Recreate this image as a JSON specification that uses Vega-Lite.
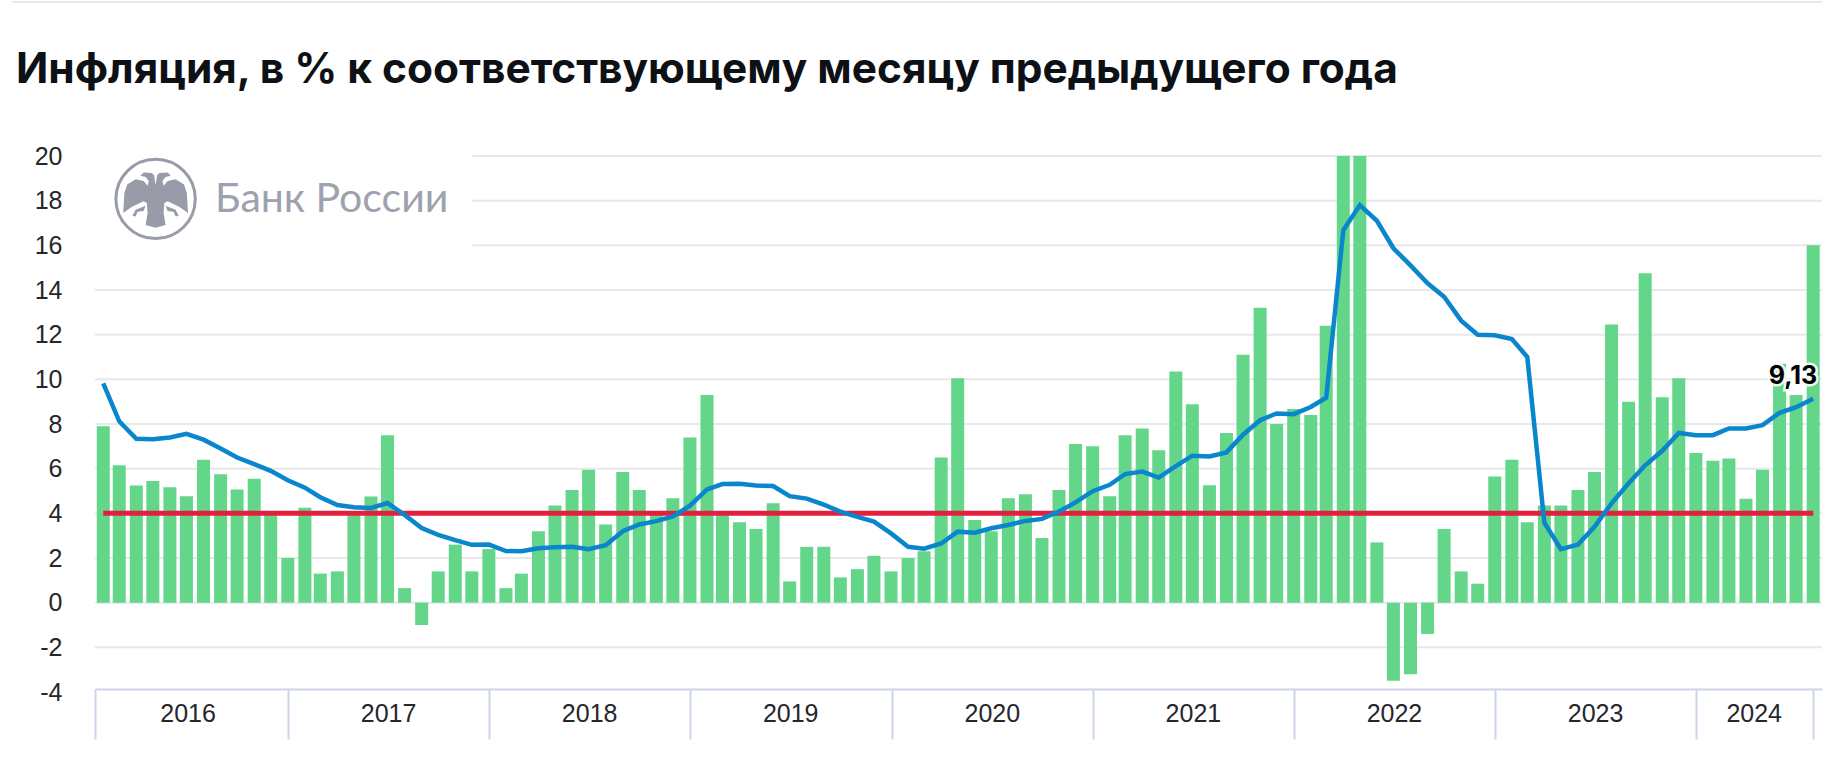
{
  "$schema": "https://vega.github.io/schema/vega-lite/v6.json",
  "autosize": "none",
  "padding": {"left": 95, "top": 156, "right": 25, "bottom": 69},
  "width": 1727,
  "height": 536,
  "background": "#ffffff",
  "config": {"view": {"stroke": null}, "font": "Liberation Sans"},
  "title": {
    "text": "Инфляция, в % к соответствующему месяцу предыдущего года",
    "anchor": "start",
    "frame": "group",
    "font": "Inter",
    "fontSize": 42.4,
    "fontWeight": 700,
    "color": "#0d1116",
    "dx": -79,
    "offset": -91
  },
  "datasets": {
    "months": [
      {"date":"2016-01-31","mom":7.9,"yoy":9.82,"target":4},
      {"date":"2016-02-29","mom":6.15,"yoy":8.12,"target":4},
      {"date":"2016-03-31","mom":5.25,"yoy":7.34,"target":4},
      {"date":"2016-04-30","mom":5.45,"yoy":7.32,"target":4},
      {"date":"2016-05-31","mom":5.17,"yoy":7.4,"target":4},
      {"date":"2016-06-30","mom":4.77,"yoy":7.56,"target":4},
      {"date":"2016-07-31","mom":6.4,"yoy":7.3,"target":4},
      {"date":"2016-08-31","mom":5.75,"yoy":6.9,"target":4},
      {"date":"2016-09-30","mom":5.07,"yoy":6.5,"target":4},
      {"date":"2016-10-31","mom":5.55,"yoy":6.2,"target":4},
      {"date":"2016-11-30","mom":4.05,"yoy":5.9,"target":4},
      {"date":"2016-12-31","mom":2.0,"yoy":5.48,"target":4},
      {"date":"2017-01-31","mom":4.25,"yoy":5.15,"target":4},
      {"date":"2017-02-28","mom":1.3,"yoy":4.72,"target":4},
      {"date":"2017-03-31","mom":1.4,"yoy":4.37,"target":4},
      {"date":"2017-04-30","mom":4.05,"yoy":4.27,"target":4},
      {"date":"2017-05-31","mom":4.75,"yoy":4.24,"target":4},
      {"date":"2017-06-30","mom":7.5,"yoy":4.46,"target":4},
      {"date":"2017-07-31","mom":0.65,"yoy":3.93,"target":4},
      {"date":"2017-08-31","mom":-1.0,"yoy":3.34,"target":4},
      {"date":"2017-09-30","mom":1.4,"yoy":3.04,"target":4},
      {"date":"2017-10-31","mom":2.6,"yoy":2.8,"target":4},
      {"date":"2017-11-30","mom":1.4,"yoy":2.59,"target":4},
      {"date":"2017-12-31","mom":2.4,"yoy":2.6,"target":4},
      {"date":"2018-01-31","mom":0.65,"yoy":2.31,"target":4},
      {"date":"2018-02-28","mom":1.3,"yoy":2.3,"target":4},
      {"date":"2018-03-31","mom":3.2,"yoy":2.44,"target":4},
      {"date":"2018-04-30","mom":4.35,"yoy":2.48,"target":4},
      {"date":"2018-05-31","mom":5.05,"yoy":2.5,"target":4},
      {"date":"2018-06-30","mom":5.95,"yoy":2.39,"target":4},
      {"date":"2018-07-31","mom":3.5,"yoy":2.57,"target":4},
      {"date":"2018-08-31","mom":5.85,"yoy":3.2,"target":4},
      {"date":"2018-09-30","mom":5.05,"yoy":3.5,"target":4},
      {"date":"2018-10-31","mom":3.95,"yoy":3.65,"target":4},
      {"date":"2018-11-30","mom":4.67,"yoy":3.86,"target":4},
      {"date":"2018-12-31","mom":7.4,"yoy":4.34,"target":4},
      {"date":"2019-01-31","mom":9.3,"yoy":5.07,"target":4},
      {"date":"2019-02-28","mom":4.0,"yoy":5.31,"target":4},
      {"date":"2019-03-31","mom":3.6,"yoy":5.32,"target":4},
      {"date":"2019-04-30","mom":3.3,"yoy":5.25,"target":4},
      {"date":"2019-05-31","mom":4.45,"yoy":5.22,"target":4},
      {"date":"2019-06-30","mom":0.95,"yoy":4.77,"target":4},
      {"date":"2019-07-31","mom":2.5,"yoy":4.66,"target":4},
      {"date":"2019-08-31","mom":2.5,"yoy":4.39,"target":4},
      {"date":"2019-09-30","mom":1.13,"yoy":4.08,"target":4},
      {"date":"2019-10-31","mom":1.5,"yoy":3.84,"target":4},
      {"date":"2019-11-30","mom":2.1,"yoy":3.63,"target":4},
      {"date":"2019-12-31","mom":1.4,"yoy":3.1,"target":4},
      {"date":"2020-01-31","mom":2.0,"yoy":2.5,"target":4},
      {"date":"2020-02-29","mom":2.3,"yoy":2.42,"target":4},
      {"date":"2020-03-31","mom":6.5,"yoy":2.65,"target":4},
      {"date":"2020-04-30","mom":10.05,"yoy":3.18,"target":4},
      {"date":"2020-05-31","mom":3.7,"yoy":3.13,"target":4},
      {"date":"2020-06-30","mom":3.2,"yoy":3.33,"target":4},
      {"date":"2020-07-31","mom":4.67,"yoy":3.48,"target":4},
      {"date":"2020-08-31","mom":4.85,"yoy":3.66,"target":4},
      {"date":"2020-09-30","mom":2.9,"yoy":3.75,"target":4},
      {"date":"2020-10-31","mom":5.05,"yoy":4.08,"target":4},
      {"date":"2020-11-30","mom":7.1,"yoy":4.49,"target":4},
      {"date":"2020-12-31","mom":7.0,"yoy":4.99,"target":4},
      {"date":"2021-01-31","mom":4.77,"yoy":5.28,"target":4},
      {"date":"2021-02-28","mom":7.5,"yoy":5.76,"target":4},
      {"date":"2021-03-31","mom":7.8,"yoy":5.87,"target":4},
      {"date":"2021-04-30","mom":6.82,"yoy":5.6,"target":4},
      {"date":"2021-05-31","mom":10.35,"yoy":6.11,"target":4},
      {"date":"2021-06-30","mom":8.88,"yoy":6.58,"target":4},
      {"date":"2021-07-31","mom":5.26,"yoy":6.55,"target":4},
      {"date":"2021-08-31","mom":7.6,"yoy":6.73,"target":4},
      {"date":"2021-09-30","mom":11.1,"yoy":7.52,"target":4},
      {"date":"2021-10-31","mom":13.2,"yoy":8.17,"target":4},
      {"date":"2021-11-30","mom":8.0,"yoy":8.47,"target":4},
      {"date":"2021-12-31","mom":8.67,"yoy":8.44,"target":4},
      {"date":"2022-01-31","mom":8.4,"yoy":8.76,"target":4},
      {"date":"2022-02-28","mom":12.4,"yoy":9.18,"target":4},
      {"date":"2022-03-31","mom":20,"yoy":16.67,"target":4},
      {"date":"2022-04-30","mom":20,"yoy":17.8,"target":4},
      {"date":"2022-05-31","mom":2.7,"yoy":17.1,"target":4},
      {"date":"2022-06-30","mom":-3.5,"yoy":15.87,"target":4},
      {"date":"2022-07-31","mom":-3.2,"yoy":15.1,"target":4},
      {"date":"2022-08-31","mom":-1.4,"yoy":14.3,"target":4},
      {"date":"2022-09-30","mom":3.3,"yoy":13.7,"target":4},
      {"date":"2022-10-31","mom":1.4,"yoy":12.63,"target":4},
      {"date":"2022-11-30","mom":0.85,"yoy":12.0,"target":4},
      {"date":"2022-12-31","mom":5.65,"yoy":11.97,"target":4},
      {"date":"2023-01-31","mom":6.4,"yoy":11.8,"target":4},
      {"date":"2023-02-28","mom":3.6,"yoy":11.0,"target":4},
      {"date":"2023-03-31","mom":4.35,"yoy":3.58,"target":4},
      {"date":"2023-04-30","mom":4.35,"yoy":2.4,"target":4},
      {"date":"2023-05-31","mom":5.05,"yoy":2.6,"target":4},
      {"date":"2023-06-30","mom":5.85,"yoy":3.4,"target":4},
      {"date":"2023-07-31","mom":12.45,"yoy":4.45,"target":4},
      {"date":"2023-08-31","mom":9.0,"yoy":5.35,"target":4},
      {"date":"2023-09-30","mom":14.75,"yoy":6.15,"target":4},
      {"date":"2023-10-31","mom":9.2,"yoy":6.8,"target":4},
      {"date":"2023-11-30","mom":10.05,"yoy":7.6,"target":4},
      {"date":"2023-12-31","mom":6.7,"yoy":7.5,"target":4},
      {"date":"2024-01-31","mom":6.35,"yoy":7.5,"target":4},
      {"date":"2024-02-29","mom":6.45,"yoy":7.8,"target":4},
      {"date":"2024-03-31","mom":4.65,"yoy":7.8,"target":4},
      {"date":"2024-04-30","mom":5.95,"yoy":7.95,"target":4},
      {"date":"2024-05-31","mom":10.7,"yoy":8.5,"target":4},
      {"date":"2024-06-30","mom":9.3,"yoy":8.75,"target":4},
      {"date":"2024-07-31","mom":16.0,"yoy":9.13,"target":4}
    ]
  },
  "encoding": {
    "x": {
      "field": "date",
      "type": "temporal",
      "axis": null,
      "scale": {
        "type": "utc",
        "nice": false,
        "padding": 0,
        "domain": [{"year": 2016, "month": 1, "date": 16, "utc": true}, {"year": 2024, "month": 8, "date": 16, "utc": true}]
      }
    },
    "y": {
      "field": "v",
      "type": "quantitative",
      "axis": null,
      "scale": {"domain": [-4, 20], "nice": false}
    }
  },
  "resolve": {"axis": {"x": "independent", "y": "independent"}},
  "layer": [
    {
      "data": {"values": [
        {"v":-2,"date":"2016-01-16","date2":"2024-08-16"},
        {"v":0,"date":"2016-01-16","date2":"2024-08-16"},
        {"v":2,"date":"2016-01-16","date2":"2024-08-16"},
        {"v":4,"date":"2016-01-16","date2":"2024-08-16"},
        {"v":6,"date":"2016-01-16","date2":"2024-08-16"},
        {"v":8,"date":"2016-01-16","date2":"2024-08-16"},
        {"v":10,"date":"2016-01-16","date2":"2024-08-16"},
        {"v":12,"date":"2016-01-16","date2":"2024-08-16"},
        {"v":14,"date":"2016-01-16","date2":"2024-08-16"},
        {"v":16,"date":"2017-12-01","date2":"2024-08-16"},
        {"v":18,"date":"2017-12-01","date2":"2024-08-16"},
        {"v":20,"date":"2017-12-01","date2":"2024-08-16"}
      ]},
      "mark": {"type": "rule", "color": "#e7e8ec", "strokeWidth": 2},
      "encoding": {
        "x2": {"field": "date2"},
        "y": {
          "field": "v",
          "type": "quantitative",
          "scale": {"domain": [-4, 20], "nice": false},
          "axis": {
            "title": null,
            "orient": "left",
            "values": [-4, -2, 0, 2, 4, 6, 8, 10, 12, 14, 16, 18, 20],
            "labelExpr": "'' + datum.value",
            "grid": false,
            "domain": false,
            "ticks": false,
            "labelPadding": 33,
            "labelFontSize": 25,
            "labelColor": "#26262c",
            "labelFont": "Liberation Sans"
          }
        }
      }
    },
    {
      "data": {"name": "months"},
      "mark": {"type": "bar", "color": "#63d689", "size": 13},
      "encoding": {
        "x": {
          "field": "date",
          "type": "temporal",
          "scale": {
            "type": "utc",
            "nice": false,
            "padding": 0,
            "domain": [{"year": 2016, "month": 1, "date": 16, "utc": true}, {"year": 2024, "month": 8, "date": 16, "utc": true}]
          },
          "axis": {
            "title": null,
            "orient": "bottom",
            "offset": -3,
            "labels": false,
            "values": [
              {"year": 2016, "month": 1, "date": 16, "utc": true},
              {"year": 2017, "month": 1, "date": 1, "utc": true},
              {"year": 2018, "month": 1, "date": 1, "utc": true},
              {"year": 2019, "month": 1, "date": 1, "utc": true},
              {"year": 2020, "month": 1, "date": 1, "utc": true},
              {"year": 2021, "month": 1, "date": 1, "utc": true},
              {"year": 2022, "month": 1, "date": 1, "utc": true},
              {"year": 2023, "month": 1, "date": 1, "utc": true},
              {"year": 2024, "month": 1, "date": 1, "utc": true},
              {"year": 2024, "month": 7, "date": 31, "utc": true}
            ],
            "grid": false,
            "tickSize": 50,
            "tickWidth": 2,
            "tickColor": "#ccd4e8",
            "domainColor": "#ccd4e8",
            "domainWidth": 2
          }
        },
        "y": {"field": "mom", "type": "quantitative", "scale": {"domain": [-4, 20], "nice": false}, "axis": null}
      }
    },
    {
      "data": {"name": "months"},
      "mark": {"type": "line", "color": "#e21f3c", "strokeWidth": 5},
      "encoding": {
        "x": {
          "field": "date",
          "type": "temporal",
          "scale": {
            "type": "utc",
            "nice": false,
            "padding": 0,
            "domain": [{"year": 2016, "month": 1, "date": 16, "utc": true}, {"year": 2024, "month": 8, "date": 16, "utc": true}]
          },
          "axis": {
            "title": null,
            "orient": "bottom",
            "offset": -3,
            "values": [
              {"year": 2016, "month": 7, "date": 2, "utc": true},
              {"year": 2017, "month": 7, "date": 1, "utc": true},
              {"year": 2018, "month": 7, "date": 1, "utc": true},
              {"year": 2019, "month": 7, "date": 1, "utc": true},
              {"year": 2020, "month": 7, "date": 1, "utc": true},
              {"year": 2021, "month": 7, "date": 1, "utc": true},
              {"year": 2022, "month": 7, "date": 1, "utc": true},
              {"year": 2023, "month": 7, "date": 1, "utc": true},
              {"year": 2024, "month": 4, "date": 14, "utc": true}
            ],
            "format": "%Y",
            "grid": false,
            "ticks": false,
            "domain": false,
            "labelPadding": 12,
            "labelFontSize": 25,
            "labelColor": "#26262c",
            "labelFont": "Liberation Sans",
            "labelFlush": false,
            "labelOverlap": false,
            "labelBound": false
          }
        },
        "y": {"field": "target", "type": "quantitative", "scale": {"domain": [-4, 20], "nice": false}, "axis": null}
      }
    },
    {
      "data": {"name": "months"},
      "mark": {"type": "line", "color": "#0a86cd", "strokeWidth": 4.5},
      "encoding": {
        "y": {"field": "yoy", "type": "quantitative", "scale": {"domain": [-4, 20], "nice": false}, "axis": null}
      }
    },
    {
      "data": {"values": [{"date": "2024-07-31", "v": 9.13, "label": "9,13"}]},
      "mark": {"type": "text", "font": "Inter", "fontWeight": 700, "fontSize": 25, "align": "right", "dx": 4, "dy": -23, "stroke": "#ffffff", "strokeWidth": 5, "strokeOpacity": 0.9},
      "encoding": {"text": {"field": "label"}}
    },
    {
      "data": {"values": [{"date": "2024-07-31", "v": 9.13, "label": "9,13"}]},
      "mark": {"type": "text", "font": "Inter", "fontWeight": 700, "fontSize": 25, "align": "right", "dx": 4, "dy": -23, "color": "#000000"},
      "encoding": {"text": {"field": "label"}}
    },
    {
      "data": {"values": [{"date": "2016-05-05", "v": 18.08}]},
      "mark": {"type": "point", "shape": "circle", "size": 6300, "filled": false, "color": "#979ca8", "strokeWidth": 3, "opacity": 1}
    },
    {
      "data": {"values": [{"date": "2016-05-05", "v": 18.08}]},
      "mark": {
        "type": "point",
        "filled": true,
        "size": 6400,
        "color": "#979ca8",
        "opacity": 1,
        "shape": "M0 -0.35 L0.04 -0.6 L0.1 -0.65 L0.3 -0.66 L0.38 -0.58 L0.25 -0.55 L0.17 -0.45 L0.2 -0.33 L0.3 -0.45 L0.5 -0.49 L0.71 -0.36 L0.78 -0.15 L0.81 0.35 L0.6 0.2 L0.3 0.06 L0.22 0.1 L0.2 0.35 L0.25 0.65 L0 0.72 L-0.25 0.65 L-0.2 0.35 L-0.22 0.1 L-0.3 0.06 L-0.6 0.2 L-0.81 0.35 L-0.78 -0.15 L-0.71 -0.36 L-0.5 -0.49 L-0.3 -0.45 L-0.2 -0.33 L-0.17 -0.45 L-0.25 -0.55 L-0.38 -0.58 L-0.3 -0.66 L-0.1 -0.65 L-0.04 -0.6 Z M0.25 0.17 L0.5 0.27 L0.58 0.42 L0.5 0.44 L0.45 0.32 L0.3 0.3 Z M-0.25 0.17 L-0.5 0.27 L-0.58 0.42 L-0.5 0.44 L-0.45 0.32 L-0.3 0.3 Z"
      }
    },
    {
      "data": {"values": [{"date": "2016-08-21", "v": 17.5, "label": "Банк России"}]},
      "mark": {"type": "text", "font": "Lato", "fontWeight": 400, "fontSize": 41, "align": "left", "baseline": "alphabetic", "color": "#9da2ad"},
      "encoding": {"text": {"field": "label"}}
    },
    {
      "data": {"values": [{"date": "2015-08-19", "date2": "2024-08-16", "v": 26.9}]},
      "mark": {"type": "rule", "color": "#e7e8ec", "strokeWidth": 2},
      "encoding": {"x2": {"field": "date2"}}
    }
  ]
}
